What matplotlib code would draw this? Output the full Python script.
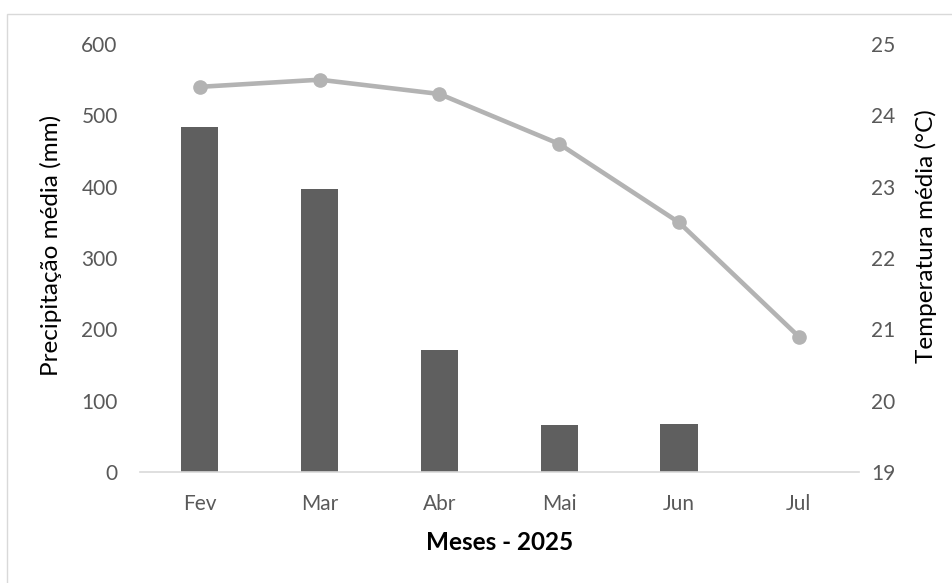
import numpy as np
import matplotlib.pyplot as plt
from matplotlib.patches import Rectangle

plt.rcParams['font.family'] = ['Lato', 'DejaVu Sans']

meses = ['Fev', 'Mar', 'Abr', 'Mai', 'Jun', 'Jul']
precip = [484, 397, 171, 66, 68, 0]
temp = [24.4, 24.5, 24.3, 23.6, 22.5, 20.9]

x = np.arange(len(meses))

fig = plt.figure(figsize=(9.52, 5.83), dpi=100)
ax = fig.add_axes([0.147, 0.19, 0.755, 0.7345])

ax.bar(x, precip, width=0.31, color='#5f5f5f', zorder=2)
ax.set_xlim(-0.5, len(meses) - 0.5)
ax.set_ylim(0, 600)
ax.set_yticks(np.arange(0, 601, 100))
ax.set_xticks(x)
ax.set_xticklabels(meses)

for s in ['top', 'left', 'right']:
    ax.spines[s].set_visible(False)
ax.spines['bottom'].set_color('#d9d9d9')
ax.spines['bottom'].set_linewidth(1.2)
ax.tick_params(axis='both', length=0, labelsize=15, colors='#595959')
ax.tick_params(axis='y', pad=16)
ax.tick_params(axis='x', pad=16)
ax.set_ylabel('Precipitação média (mm)', fontsize=17.5, color='black')
ax.yaxis.set_label_coords(-0.108, 0.53)
ax.set_xlabel('Meses - 2025', fontsize=17.5, fontweight='bold', color='black', labelpad=12)

ax2 = ax.twinx()
ax2.plot(x, temp, color='#b3b3b3', lw=3.3, marker='o', ms=9.5, zorder=3)
ax2.set_ylim(19, 25)
ax2.set_yticks(np.arange(19, 26, 1))
for s in ['top', 'left', 'right', 'bottom']:
    ax2.spines[s].set_visible(False)
ax2.tick_params(axis='y', length=0, labelsize=15, colors='#595959', pad=9)
ax2.set_ylabel('Temperatura média (°C)', fontsize=17.5, color='black')
ax2.yaxis.set_label_coords(1.078, 0.551)

# borda do grafico
fig.patches.append(Rectangle((7 / 952, -0.1), 1.2, (583 - 14) / 583 + 0.1,
                             transform=fig.transFigure, fill=False,
                             edgecolor='#d9d9d9', lw=1))

fig.savefig('out.png', dpi=100)
